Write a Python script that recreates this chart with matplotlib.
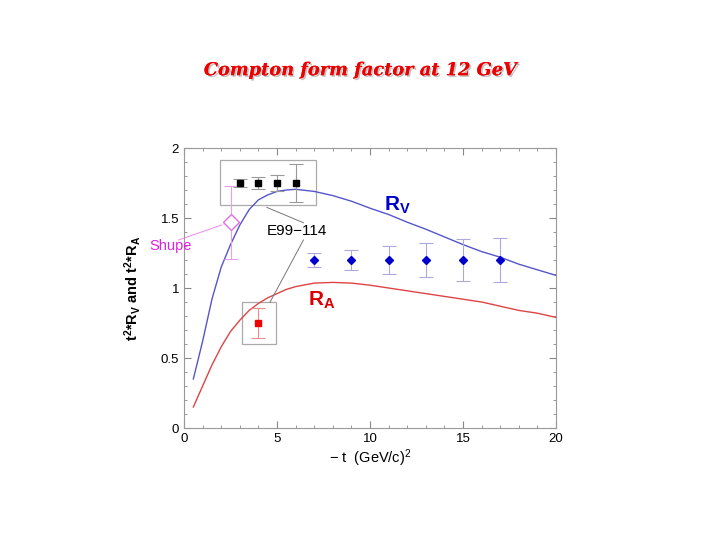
import matplotlib.pyplot as plt
import matplotlib.patheffects as pe
from matplotlib.patches import Rectangle
from matplotlib.ticker import MultipleLocator

plt.rcParams['font.family'] = ['Liberation Sans', 'DejaVu Sans']
plt.rcParams['mathtext.fontset'] = 'custom'
plt.rcParams['mathtext.rm'] = 'Liberation Sans'
plt.rcParams['mathtext.it'] = 'Liberation Sans'
plt.rcParams['mathtext.bf'] = 'Liberation Sans:bold'

# theory curves
t_curve = [0.5, 1, 1.5, 2, 2.5, 3, 3.5, 4, 4.5, 5, 5.5, 6, 7, 8, 9, 10, 11, 12, 13, 14, 15, 16, 17, 18, 19, 20]
rv_curve = [0.35, 0.62, 0.92, 1.15, 1.31, 1.45, 1.56, 1.63, 1.665, 1.69, 1.70, 1.705, 1.69, 1.66, 1.62, 1.57,
            1.525, 1.47, 1.42, 1.365, 1.31, 1.26, 1.22, 1.17, 1.13, 1.09]
ra_curve = [0.15, 0.30, 0.45, 0.58, 0.69, 0.77, 0.84, 0.89, 0.93, 0.96, 0.99, 1.01, 1.035, 1.04, 1.035, 1.02,
            1.00, 0.98, 0.96, 0.94, 0.92, 0.90, 0.87, 0.84, 0.82, 0.79]

# projected E99-114 points
t_black = [3, 4, 5, 6]
y_black = [1.75, 1.75, 1.75, 1.75]
e_black = [0.03, 0.04, 0.055, 0.135]

t_blue = [7, 9, 11, 13, 15, 17]
y_blue = [1.20, 1.20, 1.20, 1.20, 1.20, 1.20]
e_blue = [0.05, 0.07, 0.10, 0.12, 0.15, 0.155]

t_red = [4]
y_red = [0.75]
e_red = [0.105]

# Shupe point
t_shupe = [2.5]
y_shupe = [1.47]
e_shupe = [0.26]

fig = plt.figure(figsize=(7.2, 5.4), dpi=100)
ax = fig.add_axes([0.2556, 0.2074, 0.5167, 0.5185])

ax.plot(t_curve, rv_curve, color='#5555cc', lw=1.0)
ax.plot(t_curve, ra_curve, color='#dd4444', lw=1.0)

ax.errorbar(t_black, y_black, yerr=e_black, fmt='s', color='black', ms=4.5,
            ecolor='#999999', elinewidth=0.8, capsize=5, capthick=0.8)
ax.errorbar(t_blue, y_blue, yerr=e_blue, fmt='D', color='#0000cc', ms=4.5,
            ecolor='#aaaadd', elinewidth=0.8, capsize=5, capthick=0.8)
ax.errorbar(t_red, y_red, yerr=e_red, fmt='s', color='#ee0000', ms=4.5,
            ecolor='#e89090', elinewidth=0.8, capsize=5, capthick=0.8)
ax.errorbar(t_shupe, y_shupe, yerr=e_shupe, fmt='D', mfc='white', mec='#e070e0', ms=8,
            ecolor='#e8a0e8', elinewidth=0.8, capsize=5, capthick=0.8)

# grey boxes around the E99-114 points
ax.add_patch(Rectangle((1.94, 1.593), 5.16, 0.321, fill=False, ec='#aaaaaa', lw=0.9))
ax.add_patch(Rectangle((3.1, 0.60), 1.83, 0.298, fill=False, ec='#aaaaaa', lw=0.9))

ax.plot([4.45, 6.42], [1.576, 1.466], color='#777777', lw=0.7)
ax.plot([6.42, 4.62], [1.343, 0.898], color='#777777', lw=0.7)
ax.text(6.07, 1.41, 'E99\u2212114', fontsize=11, ha='center', va='center')

ax.plot([-0.3, 2.02], [1.343, 1.45], color='#ee88ee', lw=0.7, clip_on=False)
ax.text(-0.71, 1.30, 'Shupe', fontsize=10.5, color='#dd22dd', ha='center', va='center')

ax.text(11.45, 1.59, r'$\mathbf{R_V}$', fontsize=15, color='#0000cc', ha='center', va='center')
ax.text(7.4, 0.91, r'$\mathbf{R_A}$', fontsize=15, color='#dd0000', ha='center', va='center')

ax.set_xlim(0, 20)
ax.set_ylim(0, 2)
ax.xaxis.set_major_locator(MultipleLocator(5))
ax.xaxis.set_minor_locator(MultipleLocator(1))
ax.yaxis.set_major_locator(MultipleLocator(0.5))
ax.yaxis.set_minor_locator(MultipleLocator(0.1))
ax.set_yticks([0, 0.5, 1, 1.5, 2], ['0', '0.5', '1', '1.5', '2'])
ax.tick_params(which='both', direction='in', top=True, right=True, color='#888888', labelsize=9.5)
ax.tick_params(which='major', length=5)
ax.tick_params(which='minor', length=2.5)
for s in ax.spines.values():
    s.set_color('#999999')
    s.set_linewidth(0.8)

ax.set_xlabel(r'$-\ \mathrm{t}\ \ \mathrm{(GeV/c)^2}$', fontsize=10.5, labelpad=2)
ax.set_ylabel(r'$\mathbf{t^2{*}R_V\ and\ t^2{*}R_A}$', fontsize=10.5, labelpad=13)

fig.text(0.5, 0.87, 'Compton form factor at 12 GeV', fontsize=12.8, color='#ee0000',
         family='DejaVu Serif', style='italic', weight='bold', ha='center', va='center',
         path_effects=[pe.withSimplePatchShadow(offset=(1.2, -1.2), shadow_rgbFace='#999999', alpha=0.6),
                       pe.Normal()])

fig.savefig('out.png', dpi=100)
